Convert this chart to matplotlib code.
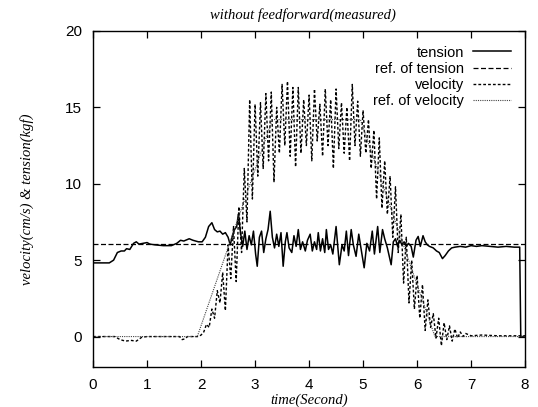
import matplotlib
matplotlib.use('Agg')
import matplotlib.pyplot as plt

# tension (measured)
t_ten = [0.00, 0.30, 0.38, 0.45, 0.52, 0.58, 0.62, 0.68, 0.75, 0.80, 0.85, 0.92,
         1.00, 1.05, 1.15, 1.30, 1.45, 1.55, 1.62, 1.68, 1.78, 1.85, 1.95, 2.02,
         2.08, 2.14, 2.20, 2.25, 2.30, 2.35, 2.40, 2.45, 2.50, 2.54, 2.58, 2.62,
         2.66, 2.69, 2.73, 2.77, 2.81, 2.85, 2.89, 2.93, 2.97, 3.01, 3.04, 3.08,
         3.12, 3.16, 3.20, 3.24, 3.28, 3.32, 3.36, 3.40, 3.44, 3.48, 3.52, 3.56,
         3.59, 3.63, 3.68, 3.72, 3.76, 3.80, 3.84, 3.88, 3.93, 3.97, 4.02, 4.06,
         4.10, 4.14, 4.17, 4.21, 4.25, 4.29, 4.32, 4.36, 4.40, 4.44, 4.50, 4.56,
         4.61, 4.65, 4.69, 4.73, 4.78, 4.82, 4.87, 4.92, 4.96, 5.02, 5.07, 5.12,
         5.17, 5.21, 5.27, 5.31, 5.36, 5.40, 5.45, 5.52, 5.56, 5.60, 5.64, 5.68,
         5.72, 5.76, 5.80, 5.84, 5.89, 5.93, 5.98, 6.02, 6.06, 6.11, 6.15, 6.19,
         6.23, 6.30, 6.36, 6.41, 6.47, 6.52, 6.58, 6.64, 6.70, 6.80, 6.90, 7.00,
         7.10, 7.20, 7.35, 7.50, 7.65, 7.80, 7.90, 7.92, 8.00]
tension = [4.82, 4.82, 5.0, 5.5, 5.6, 5.6, 5.75, 5.7, 6.1, 6.2, 6.05, 6.1,
           6.15, 6.05, 6.0, 5.95, 5.95, 6.1, 6.3, 6.25, 6.4, 6.3, 6.2, 6.2,
           6.5, 7.2, 7.45, 7.0, 6.85, 6.9, 6.7, 6.8, 6.5, 6.0, 6.6, 7.0,
           7.2, 8.0, 6.8, 5.9, 6.9, 5.7, 6.6, 6.0, 6.9, 5.4, 4.6, 6.5,
           6.9, 5.5, 6.4, 7.0, 8.2, 6.5, 5.8, 6.7, 5.9, 6.8, 4.6, 6.2,
           6.8, 5.8, 5.5, 6.6, 5.9, 7.0, 5.7, 6.2, 5.6, 6.3, 6.7, 5.6,
           6.2, 5.7, 6.8, 5.6, 6.4, 5.5, 7.0, 5.7, 6.0, 5.4, 7.2, 4.7,
           6.0, 5.6, 6.9, 5.3, 7.0, 6.0, 5.25, 6.7, 5.8, 4.5, 6.1, 5.6,
           6.9, 5.4, 7.2, 5.5, 7.0, 6.4, 5.8, 4.7, 6.2, 6.4, 5.9, 6.3,
           6.0, 6.2, 5.9, 6.1, 5.9, 5.2, 6.3, 6.55, 5.9, 6.6, 6.2, 6.0,
           5.9, 5.8, 5.6, 5.5, 5.1, 5.3, 5.6, 5.8, 5.85, 5.9, 5.85, 5.95,
           5.9, 5.95, 5.9, 5.85, 5.9, 5.85, 5.85, 0.0, 0.0]

# reference of tension
t_ref_ten = [0.0, 8.0]
ref_tension = [6.05, 6.05]

# velocity (measured)
t_vel = [0.00, 0.40, 0.50, 0.60, 0.70, 0.80, 0.90, 1.00, 1.60, 1.65, 1.70, 1.75,
         1.90, 1.95, 2.00, 2.05, 2.10, 2.15, 2.20, 2.25, 2.30, 2.35, 2.40, 2.45,
         2.50, 2.55, 2.60, 2.65, 2.70, 2.75, 2.80, 2.85, 2.90, 2.95, 3.00, 3.05,
         3.10, 3.15, 3.20, 3.25, 3.30, 3.35, 3.40, 3.45, 3.50, 3.55, 3.60, 3.65,
         3.70, 3.75, 3.80, 3.85, 3.90, 3.95, 4.00, 4.05, 4.10, 4.15, 4.20, 4.25,
         4.30, 4.35, 4.40, 4.45, 4.50, 4.55, 4.60, 4.65, 4.70, 4.75, 4.80, 4.85,
         4.90, 4.95, 5.00, 5.05, 5.10, 5.15, 5.20, 5.25, 5.30, 5.35, 5.40, 5.45,
         5.50, 5.55, 5.60, 5.65, 5.70, 5.75, 5.80, 5.85, 5.90, 5.95, 6.00, 6.05,
         6.10, 6.15, 6.20, 6.25, 6.30, 6.35, 6.40, 6.45, 6.50, 6.55, 6.60, 6.65,
         6.70, 6.75, 6.80, 6.85, 6.90, 7.00, 7.20, 7.50, 8.00]
velocity = [0.0, 0.0, -0.2, -0.3, -0.25, -0.3, -0.05, 0.0, 0.0, -0.2, -0.15, 0.0,
            0.0, 0.0, 0.1, 0.3, 0.8, 0.6, 1.8, 1.2, 3.0, 2.2, 4.2, 1.7,
            6.0, 3.8, 7.2, 3.6, 8.5, 5.5, 11.0, 7.5, 15.5, 9.0, 15.2, 10.5,
            15.3, 11.0, 15.9, 11.5, 16.0, 10.1, 15.0, 12.0, 16.5, 12.5, 16.7, 11.8,
            16.3, 11.1, 16.3, 12.0, 15.5, 12.5, 15.8, 11.5, 16.2, 12.8, 15.2, 11.8,
            16.2, 12.5, 15.5, 11.0, 16.2, 12.3, 15.3, 12.0, 15.0, 11.5, 16.5, 12.5,
            15.4, 11.8, 14.8, 12.0, 14.2, 11.0, 13.5, 9.0, 13.0, 8.4, 11.5, 8.0,
            10.5, 6.5, 9.8, 5.5, 8.0, 3.5, 6.5, 2.2, 5.0, 1.8, 4.0, 1.2,
            3.4, 0.4, 2.4, 0.6, 1.5, -0.1, 1.2, -0.6, 0.9, -0.2, 0.7, -0.3,
            0.5, -0.1, 0.3, 0.0, 0.2, 0.05, 0.1, 0.05, 0.05]

# reference of velocity
t_ref_vel = [0.0, 1.93, 3.32, 4.95, 6.33, 8.0]
ref_velocity = [0.0, 0.0, 14.2, 14.2, 0.0, 0.0]

sans = 'Liberation Sans'
serif = 'Liberation Serif'

fig = plt.figure(figsize=(5.38, 4.07), dpi=100)
ax = fig.add_axes([0.173, 0.098, 0.803, 0.826])

ax.plot(t_ten, tension, color='black', lw=1.1, label='tension')
ax.plot(t_ref_ten, ref_tension, color='black', lw=0.9, ls=(0, (4, 2)), label='ref. of tension')
ax.plot(t_vel, velocity, color='black', lw=1.0, ls=(0, (2, 1.5)), label='velocity')
ax.plot(t_ref_vel, ref_velocity, color='#444444', lw=0.8, ls=(0, (1, 1)), label='ref. of velocity')

ax.set_xlim(0, 8)
ax.set_ylim(-2, 20)
ax.set_xticks(range(0, 9))
ax.set_yticks([0, 5, 10, 15, 20])
ax.tick_params(direction='in', top=True, right=True, length=5, width=0.9, pad=8)
for lab in ax.get_xticklabels() + ax.get_yticklabels():
    lab.set_fontfamily(sans)
    lab.set_fontsize(11)
for s in ax.spines.values():
    s.set_linewidth(1.0)

ax.set_title('without feedforward(measured)', fontfamily=serif, fontstyle='italic',
             fontsize=10.5, pad=9, x=0.485)
ax.set_xlabel('time(Second)', fontfamily=serif, fontstyle='italic', fontsize=10.5, labelpad=1)
ax.set_ylabel('velocity(cm/s) & tension(kgf)', fontfamily=serif, fontstyle='italic', fontsize=10.5, labelpad=22)

ax.legend(loc='upper right', frameon=False, markerfirst=False, handlelength=2.6,
          prop={'family': sans, 'size': 10.5}, labelspacing=0.15,
          borderaxespad=0.6, handletextpad=0.6)

fig.savefig('out.png', dpi=100)
